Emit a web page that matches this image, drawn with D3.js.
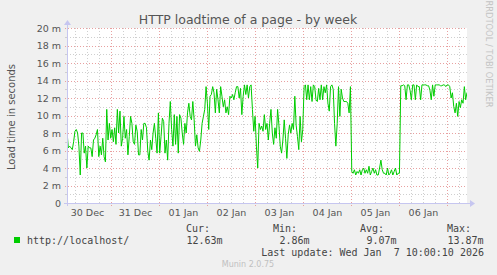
<!DOCTYPE html>
<html><head><meta charset="utf-8">
<script src="https://cdn.jsdelivr.net/npm/d3@7"></script>
<style>
html,body{margin:0;padding:0;background:#F0F0F0;overflow:hidden;}
svg{display:block;}
</style></head><body>
<svg id="chart" width="497" height="275"></svg>
<script>
// ---------- data ----------
const chartTitle = "HTTP loadtime of a page - by week";
const yAxisTitle = "Load time in seconds";
const seriesName = "http://localhost/";
const yTickValues = [0, 2, 4, 6, 8, 10, 12, 14, 16, 18, 20];
const yTickLabels = ["0", "2 m", "4 m", "6 m", "8 m", "10 m", "12 m", "14 m", "16 m", "18 m", "20 m"];
const yDomain = [0, 20];
const startTime = Date.UTC(2025, 11, 30, 2, 0, 10);
const endTime = Date.UTC(2026, 0, 7, 10, 0, 10);
// load time in milliseconds, evenly spaced from startTime to endTime
const loadTimes = [
  8.2, 6.3, 6.5, 6.3, 6.1, 7.0, 8.2, 8.4, 8.0, 6.5, 3.2, 8.0, 8.0, 5.7, 6.5, 4.0, 6.5, 6.3, 6.3, 5.3,
  7.2, 7.4, 7.8, 8.4, 5.3, 6.5, 5.5, 7.4, 5.3, 4.7, 10.7, 7.2, 9.1, 7.4, 8.4, 7.0, 8.6, 6.7, 10.7, 8.0,
  10.5, 6.5, 7.4,
  9.9, 7.4, 8.4, 5.5, 7.6, 9.9, 9.1, 7.0, 6.7, 8.9, 8.2, 5.5, 5.5, 8.4, 7.2, 9.1, 9.1, 8.6, 5.9, 4.9,
  7.2, 6.1, 8.0, 9.1, 7.4, 5.7, 10.3, 5.7, 7.6, 9.7, 9.3, 5.7, 7.2, 4.9, 9.1, 11.6, 8.4, 6.5, 10.1, 6.7,
  9.9, 5.7, 10.1,
  9.7, 8.0, 6.7, 9.1, 8.0, 10.3, 11.4, 9.9, 9.5, 11.6, 9.5, 6.5, 7.8, 6.3, 5.9, 7.2, 9.1, 9.9, 10.7, 13.3,
  11.4, 8.4, 12.2, 12.4, 13.3, 12.6, 10.3, 13.0, 11.8, 10.3, 13.3, 12.2, 11.0, 11.8, 10.3, 11.0, 10.1, 12.2, 12.0, 12.4,
  11.8, 12.6, 13.3,
  13.3, 12.0, 13.1, 10.1, 12.2, 13.5, 12.4, 13.5, 12.0, 13.3, 13.5, 10.7, 8.2, 9.9, 6.5, 4.0, 9.1, 8.4, 8.8, 8.2,
  10.1, 8.4, 9.1, 7.2, 9.1, 10.7, 8.0, 6.7, 8.6, 7.4, 10.7, 8.9, 6.5, 5.7, 7.2, 9.5, 7.4, 5.1, 7.8, 8.9,
  8.0, 9.1, 8.4,
  12.2, 8.9, 7.6, 6.1, 9.9, 7.0, 8.4, 13.3, 13.5, 11.8, 13.5, 11.8, 13.3, 11.6, 13.5, 13.3, 11.8, 11.6, 13.1, 11.8,
  13.5, 11.8, 13.3, 12.6, 13.5, 11.4, 10.5, 13.3, 13.5, 13.0, 9.1, 6.5, 9.1, 13.3, 9.9, 13.0, 12.0, 11.6, 11.6, 11.6,
  11.4, 10.3, 13.3,
  3.6, 3.4, 3.8, 3.2, 3.6, 3.4, 3.8, 3.2, 3.8, 4.0, 3.4, 3.8, 3.4, 4.2, 3.2, 3.6, 4.0, 3.4, 3.8, 3.2,
  3.2, 4.0, 4.9, 3.8, 3.4, 3.4, 3.2, 4.0, 3.2, 3.4, 3.8, 3.2, 3.6, 4.0, 3.2, 3.4, 3.4, 13.4, 13.4, 13.5,
  13.4, 11.8, 13.5,
  13.5, 12.9, 11.8, 13.5, 13.5, 11.8, 13.5, 13.3, 13.3, 11.8, 13.5, 13.5, 13.5, 13.5, 13.4, 13.4, 12.9, 11.8, 13.5, 12.2,
  13.5, 13.5, 13.5, 13.5, 13.4, 13.4, 13.5, 13.5, 13.3, 13.5, 13.5, 13.3, 12.0, 12.6, 11.0, 10.3, 11.4, 9.9, 11.6, 10.9,
  11.8, 11.4, 13.3, 11.8, 12.63
];
const statLabels = ["Cur:", "Min:", "Avg:", "Max:"];
const statValues = ["12.63m", "2.86m", "9.07m", "13.87m"];
const lastUpdate = "Last update: Wed Jan  7 10:00:10 2026";
const footerText = "Munin 2.0.75";
const watermark = "RRDTOOL / TOBI OETIKER";

// ---------- layout ----------
const W = 497, H = 275;
const plot = {left: 67, right: 467, top: 28, bottom: 203};
const lineColor = "#00CC00";
const axisColor = "#C6C6F0";
const minorGridColor = "#CFCFCF";
const majorGridColor = "#E8A0A0";
const sans = "'DejaVu Sans', sans-serif";
const mono = "'DejaVu Sans Mono', monospace";

const svg = d3.select("#chart");
svg.append("rect").attr("width", W).attr("height", H).attr("fill", "#F0F0F0");
svg.append("rect").attr("x", plot.left).attr("y", plot.top)
  .attr("width", plot.right - plot.left).attr("height", plot.bottom - plot.top).attr("fill", "#FFFFFF");

const x = d3.scaleUtc().domain([startTime, endTime]).range([plot.left, plot.right]);
const y = d3.scaleLinear().domain(yDomain).range([plot.bottom, plot.top]);

// grid
const grid = svg.append("g").attr("shape-rendering", "crispEdges");
const minorY = d3.range(yDomain[0] + 1, yDomain[1], 2);
grid.selectAll(".hmin").data(minorY).join("line")
  .attr("x1", plot.left).attr("x2", plot.right)
  .attr("y1", d => Math.round(y(d)) + 0.5).attr("y2", d => Math.round(y(d)) + 0.5)
  .attr("stroke", minorGridColor).attr("stroke-dasharray", "1,2");
const sixHours = d3.utcHour.every(6).range(new Date(startTime), new Date(endTime))
  .filter(d => d.getUTCHours() !== 0);
const midnights = d3.utcDay.range(new Date(startTime), new Date(endTime));
grid.selectAll(".vmin").data(sixHours).join("line")
  .attr("x1", d => Math.round(x(d)) + 0.5).attr("x2", d => Math.round(x(d)) + 0.5)
  .attr("y1", plot.top).attr("y2", plot.bottom + 2)
  .attr("stroke", minorGridColor).attr("stroke-dasharray", "1,2");
grid.selectAll(".hmaj").data(yTickValues.filter(v => v > 0)).join("line")
  .attr("x1", plot.left - 2).attr("x2", plot.right)
  .attr("y1", d => Math.round(y(d)) + 0.5).attr("y2", d => Math.round(y(d)) + 0.5)
  .attr("stroke", majorGridColor).attr("stroke-dasharray", "1,2");
grid.selectAll(".vmaj").data(midnights).join("line")
  .attr("x1", d => Math.round(x(d)) + 0.5).attr("x2", d => Math.round(x(d)) + 0.5)
  .attr("y1", plot.top).attr("y2", plot.bottom + 3)
  .attr("stroke", majorGridColor).attr("stroke-dasharray", "1,2");
grid.selectAll(".ytmin").data(minorY).join("line")
  .attr("x1", plot.left - 2).attr("x2", plot.left)
  .attr("y1", d => Math.round(y(d)) + 0.5).attr("y2", d => Math.round(y(d)) + 0.5)
  .attr("stroke", minorGridColor);

// axis labels via d3 axes
const yAxis = d3.axisLeft(y).tickValues(yTickValues)
  .tickFormat((d, i) => yTickLabels[i]).tickSize(0).tickPadding(0);
const gy = svg.append("g").attr("transform", `translate(${plot.left - 6},0)`).call(yAxis);
gy.select(".domain").remove();
gy.selectAll("text").attr("font-family", sans).attr("font-size", 9.5).attr("fill", "#555");

const noons = midnights.map(d => d3.utcHour.offset(d, 12)).filter(d => +d < endTime);
const noonsAll = [d3.utcHour.offset(d3.utcDay.floor(new Date(startTime)), 12)].concat(noons)
  .filter((d, i, a) => a.findIndex(e => +e === +d) === i);
const xAxis = d3.axisBottom(x).tickValues(noonsAll).tickFormat(d3.utcFormat("%d %b"))
  .tickSize(0).tickPadding(0);
const gx = svg.append("g").attr("transform", `translate(0,${plot.bottom + 12.5})`).call(xAxis);
gx.select(".domain").remove();
gx.selectAll("text").attr("font-family", sans).attr("font-size", 9.5).attr("fill", "#555")
  .attr("dy", 0);

// data line
svg.append("clipPath").attr("id", "clip").append("rect")
  .attr("x", plot.left).attr("y", plot.top - 2)
  .attr("width", plot.right - plot.left).attr("height", plot.bottom - plot.top + 2);
const step = (endTime - startTime) / (loadTimes.length - 1);
const line = d3.line().x((d, i) => x(startTime + i * step)).y(d => y(d));
svg.append("path").datum(loadTimes).attr("d", line)
  .attr("fill", "none").attr("stroke", lineColor).attr("stroke-width", 1)
  .attr("clip-path", "url(#clip)");

// axes lines with arrows
const ax = svg.append("g").attr("shape-rendering", "crispEdges");
ax.append("line").attr("x1", plot.left - 3).attr("x2", plot.right + 3)
  .attr("y1", plot.bottom + 0.5).attr("y2", plot.bottom + 0.5).attr("stroke", axisColor);
ax.append("line").attr("x1", plot.left + 0.5).attr("x2", plot.left + 0.5)
  .attr("y1", plot.bottom + 3).attr("y2", plot.top - 5).attr("stroke", axisColor);
svg.append("path").attr("d", `M${plot.right + 3},${plot.bottom - 3} L${plot.right + 8},${plot.bottom + 0.5} L${plot.right + 3},${plot.bottom + 4} Z`)
  .attr("fill", axisColor);
svg.append("path").attr("d", `M${plot.left - 3},${plot.top - 3} L${plot.left + 0.5},${plot.top - 8} L${plot.left + 4},${plot.top - 3} Z`)
  .attr("fill", axisColor);

// titles
svg.append("text").attr("x", 248).attr("y", 23.5).attr("text-anchor", "middle")
  .attr("font-family", sans).attr("font-size", 12.5).attr("fill", "#555").text(chartTitle);
svg.append("text").attr("transform", "translate(15,117) rotate(-90)").attr("text-anchor", "middle")
  .attr("font-family", sans).attr("font-size", 10).attr("fill", "#555").text(yAxisTitle);
svg.append("text").attr("transform", "translate(486,54) rotate(90)").attr("text-anchor", "middle")
  .attr("font-family", sans).attr("font-size", 8.3).attr("fill", "#C4C4C4").text(watermark);

// legend
svg.append("rect").attr("x", 14).attr("y", 237).attr("width", 6).attr("height", 6).attr("fill", lineColor);
svg.append("text").attr("x", 27).attr("y", 243.5).attr("font-family", mono).attr("font-size", 10)
  .attr("fill", "#444").text(seriesName);
const statX = [186, 273, 360, 447];
const lg = svg.append("g").attr("font-family", mono).attr("font-size", 10).attr("fill", "#444");
lg.selectAll(".sl").data(statLabels).join("text")
  .attr("x", (d, i) => statX[i]).attr("y", 231.5).text(d => d);
lg.selectAll(".sv").data(statValues).join("text")
  .attr("x", (d, i) => statX[i] + 36.5).attr("y", 243.5).attr("text-anchor", "end").text(d => d);
lg.append("text").attr("x", 484).attr("y", 255.5).attr("text-anchor", "end")
  .style("white-space", "pre").text(lastUpdate);
svg.append("text").attr("x", 248).attr("y", 267).attr("text-anchor", "middle")
  .attr("font-family", sans).attr("font-size", 8).attr("fill", "#C0C0C0").text(footerText);
</script>
</body></html>
